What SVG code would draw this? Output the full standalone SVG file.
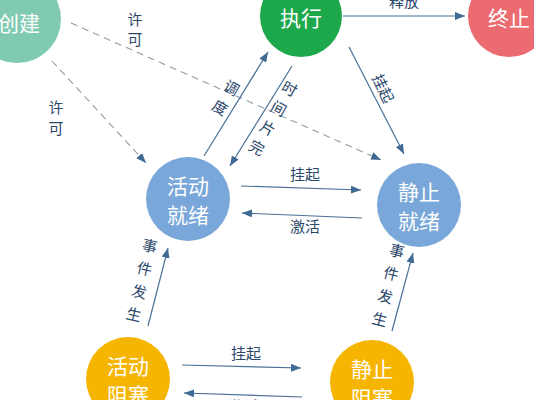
<svg xmlns="http://www.w3.org/2000/svg" width="534" height="400" viewBox="0 0 534 400">
<defs>
<marker id="ah" markerUnits="userSpaceOnUse" markerWidth="11" markerHeight="9" refX="10" refY="4" orient="auto">
<path d="M0,0 L10,4 L0,8 z" fill="#3F6A94"/>
</marker>
<style>
.n{font-family:"Noto Sans CJK SC","Noto Sans",sans-serif;font-size:21px;fill:#fff;text-anchor:middle;dominant-baseline:central}
.l{font-family:"Noto Sans CJK SC","Noto Sans",sans-serif;font-size:15px;fill:#2A476A;text-anchor:middle;dominant-baseline:central}
.e{stroke:#4A6F96;stroke-width:1.2;fill:none;marker-end:url(#ah)}
.d{stroke:#8E9CA8;stroke-width:1.1;fill:none;stroke-dasharray:7 5;marker-end:url(#ah)}
</style>
</defs>
<rect width="534" height="400" fill="#fff"/>
<g id="connectors">
<line class="e" x1="343" y1="16" x2="465" y2="16"/>
<line class="d" x1="71" y1="23" x2="381" y2="160"/>
<line class="d" x1="52" y1="61" x2="146" y2="163"/>
<line class="e" x1="204" y1="156" x2="268" y2="52"/>
<line class="e" x1="292" y1="66" x2="230" y2="166"/>
<line class="e" x1="349" y1="47" x2="404" y2="154"/>
<line class="e" x1="241" y1="186" x2="361" y2="190"/>
<line class="e" x1="362" y1="218" x2="242" y2="213"/>
<line class="e" x1="148" y1="326" x2="168" y2="248"/>
<line class="e" x1="392" y1="331" x2="413" y2="253"/>
<line class="e" x1="182" y1="365" x2="301" y2="368"/>
<line class="e" x1="302" y1="397" x2="184" y2="393"/>
</g>
<g id="labels">
<text class="l" x="404" y="0">释放</text>
<text class="l" x="135" y="18">许</text>
<text class="l" x="135" y="38">可</text>
<text class="l" x="56" y="106">许</text>
<text class="l" x="56" y="127">可</text>
<g transform="translate(232,87) rotate(30)">
<text class="l" x="0" y="0">调</text>
<text class="l" x="0" y="23">度</text>
</g>
<g transform="translate(290,88) rotate(29)">
<text class="l" x="0" y="0">时</text>
<text class="l" x="0" y="22.5">间</text>
<text class="l" x="0" y="45">片</text>
<text class="l" x="0" y="67.5">完</text>
</g>
<text class="l" transform="translate(384,88) rotate(65)">挂起</text>
<text class="l" x="305" y="173">挂起</text>
<text class="l" x="305" y="225">激活</text>
<g transform="translate(150,245) rotate(13)">
<text class="l" x="0" y="0">事</text>
<text class="l" x="0" y="23.5">件</text>
<text class="l" x="0" y="47">发</text>
<text class="l" x="0" y="70.5">生</text>
</g>
<g transform="translate(397,250) rotate(14)">
<text class="l" x="0" y="0">事</text>
<text class="l" x="0" y="23.5">件</text>
<text class="l" x="0" y="47">发</text>
<text class="l" x="0" y="70.5">生</text>
</g>
<text class="l" x="246" y="352">挂起</text>
<text class="l" x="243" y="405">激活</text>
</g>
<g id="create"><circle cx="17" cy="19" r="44" fill="#7FCAB1"/><text class="n" x="19" y="22">创建</text></g>
<g id="run"><circle cx="301" cy="16" r="41" fill="#1DA84C"/><text class="n" x="301" y="17">执行</text></g>
<g id="end"><circle cx="509" cy="16" r="41" fill="#EC6B71"/><text class="n" x="509" y="17">终止</text></g>
<g id="active-ready"><circle cx="188" cy="199" r="42" fill="#7AA7DA"/><text class="n" x="188" y="185">活动</text><text class="n" x="188" y="214">就绪</text></g>
<g id="static-ready"><circle cx="419" cy="205" r="42" fill="#7AA7DA"/><text class="n" x="419" y="191">静止</text><text class="n" x="419" y="220">就绪</text></g>
<g id="active-blocked"><circle cx="128" cy="379" r="42" fill="#F6B500"/><text class="n" x="128" y="365">活动</text><text class="n" x="128" y="394">阻塞</text></g>
<g id="static-blocked"><circle cx="372" cy="382" r="42" fill="#F6B500"/><text class="n" x="372" y="368">静止</text><text class="n" x="372" y="397">阻塞</text></g>
</svg>
